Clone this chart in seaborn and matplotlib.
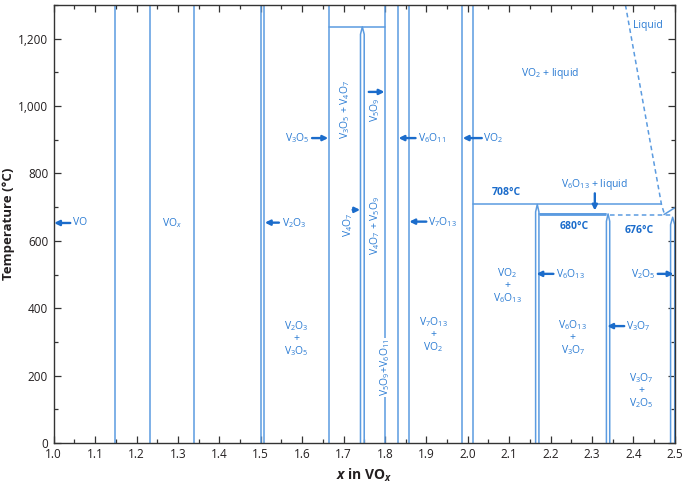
import numpy as np
import pandas as pd
import matplotlib
matplotlib.use("Agg")
import matplotlib.pyplot as plt
from matplotlib.ticker import MultipleLocator, FuncFormatter
import seaborn as sns

# ---------------- data ----------------
# full-height single-phase boundary lines (x in VOx)
full_x = [1.149, 1.233, 1.340, 1.500, 1.509, 1.665, 1.800, 1.831, 1.857, 1.985, 2.013]
# double lines with peaked tops (incongruent / melting)
peak_left = [1.741, 2.164, 2.335, 2.490]
peak_right = [1.750, 2.172, 2.343, 2.500]
peak_top = [1235, 708, 680, 670]
# solid horizontal lines
h_T = [1235, 708, 680]
h_x0 = [1.665, 2.013, 2.172]
h_x1 = [1.800, 2.468, 2.335]
# dashed horizontal line (676 °C eutectic)
hd_T = [676]
hd_x0 = [2.343]
hd_x1 = [2.490]
# liquidus (dashed)
liq_x = [2.381, 2.468, 2.476]
liq_T = [1300, 708, 676]
# V2O5 liquidus (short solid)
liq2_x = [2.474, 2.500]
liq2_T = [678, 698]

# arrows: label, tail x, head x, T, text x, ha
arrow_lab = ["VO", "V$_2$O$_3$", "V$_3$O$_5$", "V$_6$O$_{11}$", "VO$_2$", "V$_7$O$_{13}$",
             "V$_6$O$_{13}$", "V$_3$O$_7$", "V$_2$O$_5$"]
arrow_tx = [1.040, 1.544, 1.624, 1.874, 2.034, 1.900, 2.207, 2.378, 2.459]
arrow_hx = [1.001, 1.510, 1.663, 1.833, 1.988, 1.859, 2.166, 2.337, 2.497]
arrow_T = [653, 654, 905, 905, 905, 657, 502, 347, 502]
arrow_textx = [1.047, 1.551, 1.618, 1.879, 2.038, 1.905, 2.213, 2.383, 2.453]
arrow_ha = ["left", "left", "right", "left", "left", "left", "left", "left", "right"]

# region labels (centered)
reg_lab = ["VO$_x$", "V$_2$O$_3$\n+\nV$_3$O$_5$", "V$_7$O$_{13}$\n+\nVO$_2$",
           "VO$_2$\n+\nV$_6$O$_{13}$", "V$_6$O$_{13}$\n+\nV$_3$O$_7$", "V$_3$O$_7$\n+\nV$_2$O$_5$",
           "VO$_2$ + liquid", "Liquid", "V$_6$O$_{13}$ + liquid"]
reg_x = [1.285, 1.586, 1.917, 2.095, 2.254, 2.419, 2.200, 2.436, 2.305]
reg_T = [653, 310, 321, 466, 313, 155, 1098, 1240, 766]

# rotated labels
rot_lab = ["V$_3$O$_5$ + V$_4$O$_7$", "V$_5$O$_9$", "V$_4$O$_7$ + V$_5$O$_9$", "V$_4$O$_7$",
           "V$_5$O$_9$+V$_6$O$_{11}$"]
rot_x = [1.703, 1.776, 1.776, 1.712, 1.800]
rot_T = [989, 990, 647, 647, 224]

# small arrows: tail x, tail T, head x, head T
small_tx = [1.761, 1.722, 2.307]
small_tT = [1042, 692, 741]
small_hx = [1.799, 1.740, 2.307]
small_hT = [1042, 692, 690]

# temperature labels
temp_lab = ["708°C", "680°C", "676°C"]
temp_x = [2.093, 2.256, 2.413]
temp_T = [742, 642, 632]

# ---------------- style ----------------
sns.set_theme(style="ticks")
FONT = "Open Sans"
plt.rcParams["font.family"] = [FONT, "DejaVu Sans"]
plt.rcParams["mathtext.fontset"] = "custom"
plt.rcParams["mathtext.rm"] = FONT
plt.rcParams["mathtext.it"] = FONT + ":italic"
plt.rcParams["mathtext.bf"] = FONT + ":bold"
plt.rcParams["mathtext.bfit"] = FONT + ":italic:bold"

LINE = "#5b9be0"
DARK = "#1b6ccb"
TXT = "#2a7bd3"

fig = plt.figure(figsize=(6.85, 4.84), dpi=100)
ax = fig.add_axes([0.0784, 0.0847, 0.9066, 0.905])

# build segment table for seaborn
rows = []
seg = 0
for x in full_x:
    rows += [(seg, x, 0), (seg, x, 1300)]
    seg += 1
d = 22
for xl, xr, top in zip(peak_left, peak_right, peak_top):
    xm = (xl + xr) / 2
    for (px, pt) in [(xl, 0), (xl, top - d), (xm, top), (xr, top - d), (xr, 0)]:
        rows.append((seg, px, pt))
    seg += 1
for T, x0, x1 in zip(h_T, h_x0, h_x1):
    rows += [(seg, x0, T), (seg, x1, T)]
    seg += 1
rows += [(seg, liq2_x[0], liq2_T[0]), (seg, liq2_x[1], liq2_T[1])]
seg += 1
solid = pd.DataFrame(rows, columns=["seg", "x", "T"])

rows = []
for T, x0, x1 in zip(hd_T, hd_x0, hd_x1):
    rows += [(0, x0, T), (0, x1, T)]
for x, T in zip(liq_x, liq_T):
    rows.append((1, x, T))
dashed = pd.DataFrame(rows, columns=["seg", "x", "T"])

sns.lineplot(data=solid, x="x", y="T", units="seg", estimator=None, sort=False,
             color=LINE, lw=1.1, ax=ax)
sns.lineplot(data=dashed, x="x", y="T", units="seg", estimator=None, sort=False,
             color=LINE, lw=1.1, ax=ax, linestyle=(0, (3, 2.2)))
# thicker 680 °C peritectic line
ax.plot([h_x0[2], h_x1[2]], [h_T[2], h_T[2]], color=LINE, lw=2.0, solid_capstyle="butt")

ax.set_xlim(1.0, 2.5)
ax.set_ylim(0, 1300)

fs = 7.5
ap = dict(arrowstyle="-|>", color=DARK, lw=1.7, mutation_scale=7.5, shrinkA=0, shrinkB=0)
for lab, tx, hx, T, txx, ha in zip(arrow_lab, arrow_tx, arrow_hx, arrow_T, arrow_textx, arrow_ha):
    ax.annotate("", xy=(hx, T), xytext=(tx, T), arrowprops=ap)
    ax.text(txx, T, lab, ha=ha, va="center", fontsize=fs, color=TXT)

for tx, tT, hx, hT in zip(small_tx, small_tT, small_hx, small_hT):
    ax.annotate("", xy=(hx, hT), xytext=(tx, tT), arrowprops=ap)

for lab, x, T in zip(reg_lab, reg_x, reg_T):
    ax.text(x, T, lab, ha="center", va="center", fontsize=fs, color=TXT,
            linespacing=1.0, multialignment="center")

for i, (lab, x, T) in enumerate(zip(rot_lab, rot_x, rot_T)):
    kw = {}
    if i == 4:
        kw["bbox"] = dict(facecolor="white", edgecolor="none", pad=0.6)
    ax.text(x, T, lab, ha="center", va="center", rotation=90, fontsize=fs, color=TXT, **kw)

for lab, x, T in zip(temp_lab, temp_x, temp_T):
    ax.text(x, T, lab, ha="center", va="center", fontsize=fs, color=DARK, fontweight="bold")

# axes formatting
ax.xaxis.set_major_locator(MultipleLocator(0.1))
ax.xaxis.set_minor_locator(MultipleLocator(0.05))
ax.yaxis.set_major_locator(MultipleLocator(200))
ax.yaxis.set_minor_locator(MultipleLocator(100))
ax.xaxis.set_major_formatter(FuncFormatter(lambda v, p: f"{v:.1f}"))
ax.yaxis.set_major_formatter(FuncFormatter(lambda v, p: f"{int(round(v)):,}"))
ax.tick_params(which="both", direction="in", top=True, right=True, color="#333333",
               width=0.9, labelsize=8.5, labelcolor="#231f20")
ax.tick_params(which="major", length=5)
ax.tick_params(which="minor", length=3)
ax.tick_params(axis="y", pad=4)
for s in ax.spines.values():
    s.set_visible(True)
    s.set_color("#333333")
    s.set_linewidth(1.0)

ax.set_xlabel(r"$\mathbfit{x}$ in VO$_{\mathbfit{x}}$", fontsize=10, fontweight="bold",
              color="#231f20")
ax.xaxis.set_label_coords(0.5, -0.055)
ax.set_ylabel("Temperature (°C)", fontsize=9.5, fontweight="bold", color="#231f20")
ax.yaxis.set_label_coords(-0.063, 0.5)

fig.savefig("out.png", dpi=100)
